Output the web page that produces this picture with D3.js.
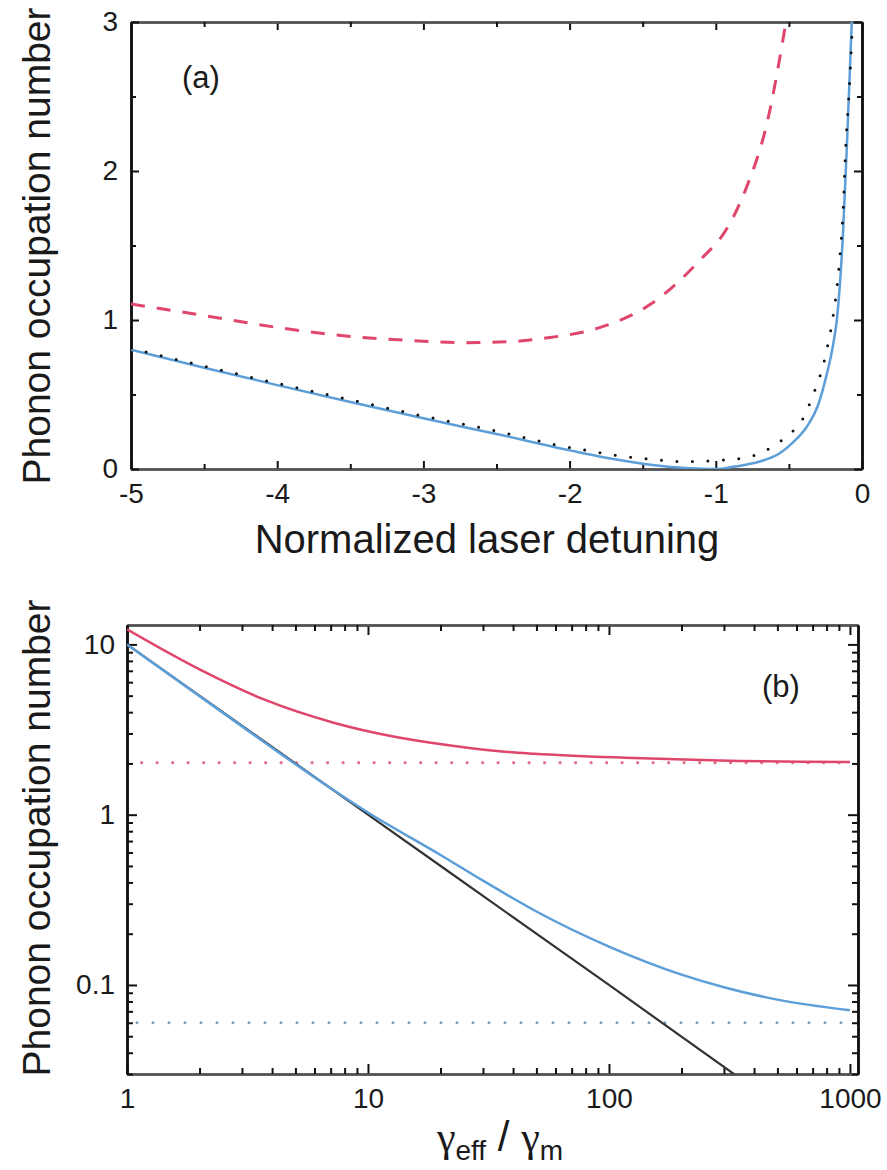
<!DOCTYPE html>
<html>
<head>
<meta charset="utf-8">
<script src="https://d3js.org/d3.v7.min.js"></script>
<style>
  body { margin: 0; background: #fff; }
  svg text { font-family: "Liberation Sans", Arial, sans-serif; fill: #1a1a1a; }
</style>
</head>
<body>
<svg id="fig" width="887" height="1170"></svg>
<script>
// ---- panel (a): phonon number vs normalized detuning
var detuneTicks = [-5, -4, -3, -2, -1, 0];
var occTicksA = [0, 1, 2, 3];
// red dashed curve
var redDashA = [[-5, 1.107], [-4.5, 1.03], [-4, 0.95], [-3.5, 0.89], [-3, 0.858], [-2.75, 0.848],
  [-2.4, 0.855], [-2.18, 0.877], [-1.79, 0.95], [-1.44, 1.11], [-1.11, 1.40], [-0.92, 1.62],
  [-0.79, 1.89], [-0.65, 2.32], [-0.52, 3.0]];
// blue solid curve
var blueA = [[-5, 0.80], [-4.5, 0.68], [-4, 0.563], [-3.5, 0.45], [-3, 0.34], [-2.5, 0.235],
  [-2, 0.125], [-1.75, 0.075], [-1.5, 0.036], [-1.25, 0.01], [-1.0, 0.0], [-0.88, 0.015],
  [-0.7, 0.05], [-0.56, 0.107], [-0.47, 0.18], [-0.38, 0.28], [-0.3, 0.43], [-0.24, 0.64],
  [-0.2, 0.82], [-0.17, 1.02], [-0.13, 1.58], [-0.1, 2.25], [-0.07, 3.0]];
// black dotted curve
var dotA = [[-5, 0.81], [-4.5, 0.69], [-4, 0.575], [-3.5, 0.465], [-3, 0.355], [-2.5, 0.255],
  [-2.19, 0.183], [-2.09, 0.161], [-1.87, 0.123], [-1.66, 0.089], [-1.44, 0.065], [-1.22, 0.049],
  [-1.01, 0.056], [-0.79, 0.078], [-0.68, 0.114], [-0.57, 0.177], [-0.46, 0.268], [-0.385, 0.373],
  [-0.34, 0.485], [-0.30, 0.586], [-0.265, 0.698], [-0.24, 0.805], [-0.20, 1.01], [-0.17, 1.23],
  [-0.15, 1.44], [-0.13, 1.72], [-0.11, 2.19], [-0.09, 2.5], [-0.065, 3.0]];

// ---- panel (b): phonon number vs gamma_eff / gamma_m
var ratioTicks = [1, 10, 100, 1000];
var occTicksB = [0.1, 1, 10];
var redB = [[1, 12.25], [2, 7.13], [3.7, 4.75], [7.2, 3.47], [13.4, 2.84], [22, 2.55], [36, 2.35],
  [49, 2.28], [116, 2.16], [288, 2.08], [1000, 2.04]];
var blueB = [[1, 10], [3, 3.3], [7, 1.43], [10, 1.03], [20, 0.58], [30, 0.41], [50, 0.27],
  [100, 0.168], [200, 0.115], [300, 0.097], [500, 0.082], [1000, 0.071]];
var blackB = [[1, 10], [10, 1], [100, 0.1], [330, 0.03]];
var redLimitB = [[1.15, 2.02], [1000, 2.02]];
var blueLimitB = [[1.1, 0.06], [1000, 0.06]];

var red = '#e0466c', blue = '#5c9ed8';
var svg = d3.select('#fig');

function isPow10(d) {
  var l = Math.log10(d);
  return Math.abs(l - Math.round(l)) < 1e-6;
}

// draws one axis; ticks point into the plot
function axis(g, gen, values, size, fmt, pad, tr, col) {
  var a = gen.tickValues(values).tickSize(size).tickSizeOuter(0).tickPadding(pad)
    .tickFormat(fmt || '');
  var el = g.append('g').attr('transform', tr).call(a);
  el.select('.domain').attr('stroke', col).attr('stroke-width', 2.5);
  el.selectAll('.tick line').attr('stroke', '#111').attr('stroke-width', 2);
  el.selectAll('.tick text').style('font-size', '28px').attr('fill', '#1a1a1a');
  return el;
}

// ---------------- panel (a)
var xa = d3.scaleLinear().domain([-5, 0]).range([131, 862]);
var ya = d3.scaleLinear().domain([0, 3]).range([469, 22]);
var ga = svg.append('g');

svg.append('clipPath').attr('id', 'clipA').append('rect')
  .attr('x', xa(-5)).attr('y', ya(3)).attr('width', xa(0) - xa(-5)).attr('height', ya(0) - ya(3));

var minorXa = d3.range(-4.5, 0, 1), minorYa = [0.5, 1.5, 2.5];
var fmtA = function (d) { return String(d); };
axis(ga, d3.axisBottom(xa), detuneTicks, -8, fmtA, 14, 'translate(0,' + ya(0) + ')', '#555');
axis(ga, d3.axisBottom(xa), minorXa, -5, null, 0, 'translate(0,' + ya(0) + ')', '#555');
axis(ga, d3.axisTop(xa), detuneTicks, -8, null, 0, 'translate(0,' + ya(3) + ')', '#555');
axis(ga, d3.axisTop(xa), minorXa, -5, null, 0, 'translate(0,' + ya(3) + ')', '#555');
axis(ga, d3.axisLeft(ya), occTicksA, -8, fmtA, 13, 'translate(' + xa(-5) + ',0)', '#111');
axis(ga, d3.axisLeft(ya), minorYa, -5, null, 0, 'translate(' + xa(-5) + ',0)', '#111');
axis(ga, d3.axisRight(ya), occTicksA, -8, null, 0, 'translate(' + xa(0) + ',0)', '#111');
axis(ga, d3.axisRight(ya), minorYa, -5, null, 0, 'translate(' + xa(0) + ',0)', '#111');

var lineA = d3.line().x(function (d) { return xa(d[0]); }).y(function (d) { return ya(d[1]); })
  .curve(d3.curveMonotoneX);
var pa = ga.append('g').attr('clip-path', 'url(#clipA)');
pa.append('path').datum(redDashA).attr('d', lineA).attr('fill', 'none')
  .attr('stroke', red).attr('stroke-width', 3).attr('stroke-dasharray', '14 12');
pa.append('path').datum(blueA).attr('d', lineA).attr('fill', 'none')
  .attr('stroke', blue).attr('stroke-width', 2.5);
pa.append('path').datum(dotA).attr('d', lineA).attr('fill', 'none')
  .attr('stroke', '#111').attr('stroke-width', 3).attr('stroke-linecap', 'round')
  .attr('stroke-dasharray', '0 15.5');

ga.append('text').attr('x', 182).attr('y', 88).style('font-size', '31px').text('(a)');
ga.append('text').attr('x', 487).attr('y', 553).attr('text-anchor', 'middle')
  .style('font-size', '40px').text('Normalized laser detuning');
ga.append('text').attr('transform', 'translate(50,246) rotate(-90)').attr('text-anchor', 'middle')
  .style('font-size', '39px').text('Phonon occupation number');

// ---------------- panel (b)
var xb = d3.scaleLog().domain([1, 1080]).range([127, 858]);
var yb = d3.scaleLog().domain([0.03, 13]).range([1074, 625]);
var gb = svg.append('g');

svg.append('clipPath').attr('id', 'clipB').append('rect')
  .attr('x', 127).attr('y', 625).attr('width', 858 - 127).attr('height', 1074 - 625);

var minorXb = xb.ticks().filter(function (d) { return !isPow10(d); });
var minorYb = yb.ticks().filter(function (d) { return !isPow10(d); });
var fmtB = function (d) { return d3.format('~g')(d); };
axis(gb, d3.axisBottom(xb), ratioTicks, -10, fmtB, 14, 'translate(0,1074)', '#555');
axis(gb, d3.axisBottom(xb), minorXb, -6, null, 0, 'translate(0,1074)', '#555');
axis(gb, d3.axisTop(xb), ratioTicks, -10, null, 0, 'translate(0,625)', '#555');
axis(gb, d3.axisTop(xb), minorXb, -6, null, 0, 'translate(0,625)', '#555');
axis(gb, d3.axisLeft(yb), occTicksB, -10, fmtB, 12, 'translate(127,0)', '#111');
axis(gb, d3.axisLeft(yb), minorYb, -6, null, 0, 'translate(127,0)', '#111');
axis(gb, d3.axisRight(yb), occTicksB, -10, null, 0, 'translate(858,0)', '#111');
axis(gb, d3.axisRight(yb), minorYb, -6, null, 0, 'translate(858,0)', '#111');

var lineB = d3.line().x(function (d) { return xb(d[0]); }).y(function (d) { return yb(d[1]); })
  .curve(d3.curveMonotoneX);
var pb = gb.append('g').attr('clip-path', 'url(#clipB)');
pb.append('path').datum(redLimitB).attr('d', lineB).attr('fill', 'none')
  .attr('stroke', '#e0708c').attr('stroke-width', 3.2).attr('stroke-linecap', 'round')
  .attr('stroke-dasharray', '0 15.5');
pb.append('path').datum(blueLimitB).attr('d', lineB).attr('fill', 'none')
  .attr('stroke', '#7f9db8').attr('stroke-width', 3).attr('stroke-linecap', 'round')
  .attr('stroke-dasharray', '0 16');
pb.append('path').datum(blackB).attr('d', lineB).attr('fill', 'none')
  .attr('stroke', '#333').attr('stroke-width', 2.2);
pb.append('path').datum(blueB).attr('d', lineB).attr('fill', 'none')
  .attr('stroke', blue).attr('stroke-width', 2.5);
pb.append('path').datum(redB).attr('d', lineB).attr('fill', 'none')
  .attr('stroke', red).attr('stroke-width', 2.5);

gb.append('text').attr('x', 762).attr('y', 697).style('font-size', '31px').text('(b)');
gb.append('text').attr('transform', 'translate(50,838) rotate(-90)').attr('text-anchor', 'middle')
  .style('font-size', '39px').text('Phonon occupation number');

var tb = gb.append('text').attr('x', 500).attr('y', 1151).attr('text-anchor', 'middle')
  .style('font-size', '42px');
tb.append('tspan').style('font-family', '"Liberation Serif", serif').text('γ');
tb.append('tspan').attr('dy', 9).style('font-size', '28px').text('eff');
tb.append('tspan').attr('dy', -9).text(' / ');
tb.append('tspan').style('font-family', '"Liberation Serif", serif').text('γ');
tb.append('tspan').attr('dy', 9).style('font-size', '28px').text('m');
</script>
</body>
</html>
